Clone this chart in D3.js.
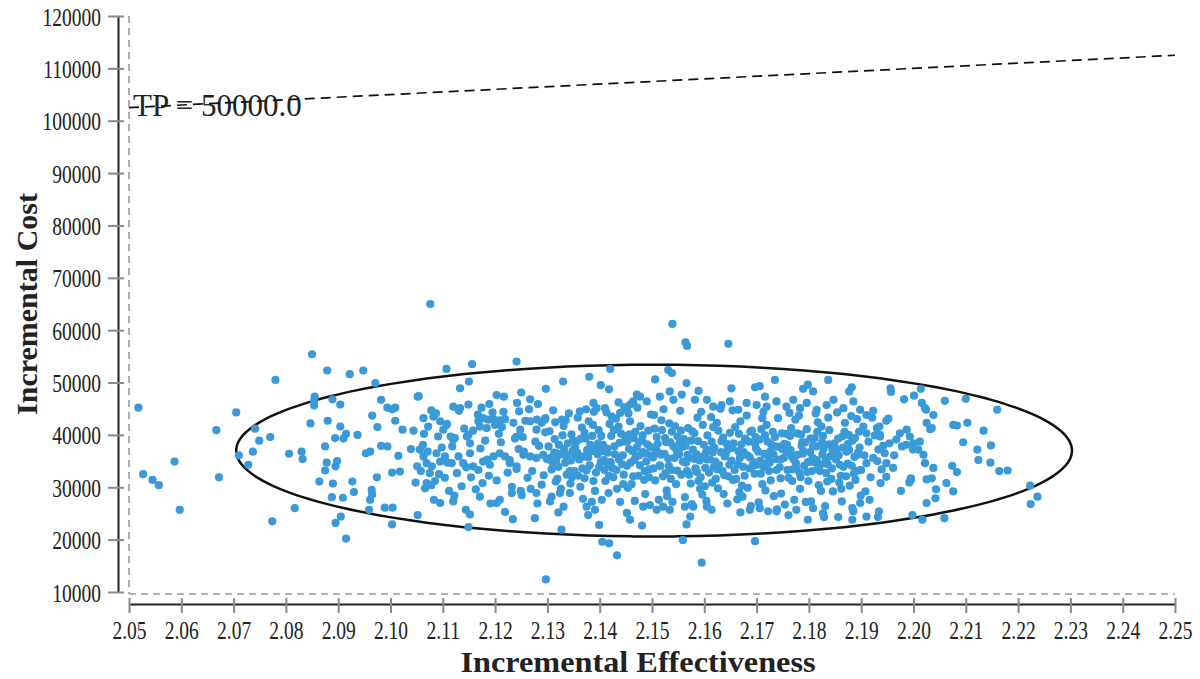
<!DOCTYPE html>
<html>
<head>
<meta charset="utf-8">
<script src="https://cdn.jsdelivr.net/npm/d3@7"></script>
<style>
  body { margin: 0; background: #fff; }
  svg { display: block; }
</style>
</head>
<body>
<svg id="chart" width="1200" height="679"></svg>
<script>
const xTicks = [2.05, 2.06, 2.07, 2.08, 2.09, 2.10, 2.11, 2.12, 2.13, 2.14, 2.15,
    2.16, 2.17, 2.18, 2.19, 2.20, 2.21, 2.22, 2.23, 2.24, 2.25];
const yTicks = [10000, 20000, 30000, 40000, 50000, 60000, 70000, 80000, 90000, 100000, 110000, 120000];

// willingness-to-pay threshold line and its label
const wtpLine = [[2.05, 102500], [2.25, 112500]];
const wtpLabel = 'TP = 50000.0';

// confidence ellipse: centre and semi-axes in data units
const ellipseCenter = [2.1504, 37000];
const ellipseRadii = [0.0799, 16400];

// simulated draws [incremental effectiveness, incremental cost]
const leftDraws = [
    [2.0518,45200],[2.0527,32500],[2.0545,31400],[2.0557,30400],[2.0587,34900],[2.0597,25700],[2.0667,40900],[2.0672,31900],
    [2.0705,44300],[2.0710,36100],[2.0728,34300],[2.0737,36800],[2.0741,41200],[2.0749,38900],[2.0770,39600],[2.0780,50500],
    [2.0774,23500],[2.0806,36400],[2.0817,26000],[2.0830,36800],[2.0832,35400],[2.0850,55400],[2.0855,47300],[2.0854,46500],
    [2.0854,45600],[2.0847,42200],[2.0864,31100],[2.0875,37800],[2.0878,34700],[2.0875,33200],[2.0895,34000],[2.0898,35000],
    [2.0879,52300],[2.0880,42700],[2.0889,46800],[2.0890,30700],[2.0888,28100],[2.0909,28000],[2.0894,39400],[2.0910,39300],
    [2.0915,40200],[2.0904,41600],[2.0904,45800],[2.0895,23200],[2.0905,24400],[2.0915,20200],[2.0922,51600],[2.0937,40000],
    [2.0927,31100],[2.0930,29100],[2.0948,52300],[2.0971,49900],[2.0965,43700],[2.0975,41500],[2.0982,46700],[2.0994,45200],
    [2.1003,44900],[2.1009,45200],[2.1009,42700],[2.1023,41000],[2.1044,40800],[2.1039,37300],[2.0982,37900],[2.0994,37800],
    [2.0953,36500],[2.0961,36800],[2.1015,36000],[2.1003,32800],[2.1018,33000],[2.0974,31900],[2.0964,29500],[2.0965,28600],
    [2.0961,27600],[2.0959,25700],[2.0989,26100],[2.1004,26100],[2.1003,22900],[2.1051,34000],[2.1048,30900],[2.1052,24700],
    [2.1052,47300],[2.1075,32700],[2.1069,30800]
];

const midDraws = [
    [2.1076,65000],[2.1107,52600],[2.1156,53500],[2.1241,54000],[2.1133,48900],[2.1150,50200],[2.1054,47400],[2.1078,44700],
    [2.1297,48800],[2.1330,50200],[2.1380,51100],[2.1420,52600],[2.1402,49500],[2.1418,48700],[2.1539,61200],[2.1564,57700],
    [2.1567,57000],[2.1531,52400],[2.1538,51800],[2.1506,50600],[2.1566,49900],[2.1203,47600],[2.1217,47300],[2.1250,48100],
    [2.1267,46800],[2.1282,45900],[2.1120,45400],[2.1133,45100],[2.1149,45800],[2.1174,45200],[2.1189,45900],[2.1242,46100],
    [2.1246,44500],[2.1388,46100],[2.1374,44900],[2.1394,45100],[2.1410,45100],[2.1423,43500],[2.1439,44200],[2.1452,44800],
    [2.1471,47700],[2.1464,46400],[2.1458,45800],[2.1335,42800],[2.1296,43200],[2.1289,42300],[2.1279,41000],
    [2.1063,43200],[2.1072,41600],[2.1082,43500],[2.1095,42600],[2.1107,41900],[2.1101,41000],[2.1115,39700],[2.1120,39100],
    [2.1091,39700],[2.1168,42600],[2.1177,43200],[2.1187,42900],[2.1197,43000],[2.1209,42800],[2.1219,43000],[2.1171,41600],
    [2.1184,41300],[2.1200,41900],[2.1213,41500],[2.1235,42300],[2.1241,39700],[2.1248,41000],[2.1267,42600],[2.1280,42900],
    [2.1295,42900],[2.1146,39700],[2.1149,40000],[2.1123,39400],[2.1152,38400],
    [2.1056,37200],[2.1063,35900],[2.1069,34600],[2.1079,34000],[2.1088,36500],[2.1095,34900],[2.1104,35900],[2.1117,34600],
    [2.1130,35900],[2.1139,34600],[2.1152,36500],[2.1158,34000],[2.1168,33300],[2.1177,34900],[2.1190,34300],[2.1197,35900],
    [2.1209,36500],[2.1219,35900],[2.1228,34600],[2.1241,34000],[2.1254,36200],[2.1267,35900],[2.1279,35600],[2.1292,36200],
    [2.1305,35200],[2.1318,36500],[2.1311,34600],
    [2.1062,38100],[2.1071,36800],[2.1085,31200],[2.1066,29800],[2.1093,32500],[2.1078,30400],[2.1058,33100],[2.1098,37600],
    [2.1087,44100],[2.1064,40200],[2.1104,31800],[2.1112,29300],[2.1127,32700],[2.1136,30200],[2.1108,42100],[2.1118,37800],
    [2.1141,41200],[2.1131,44600],[2.1122,28400],[2.1145,33800],[2.1109,34700],[2.1154,31900],[2.1163,29600],[2.1172,37400],
    [2.1181,38900],[2.1158,40800],[2.1176,30800],[2.1188,32200],[2.1195,44300],[2.1167,43900],[2.1185,35300],[2.1152,24800],
    [2.1191,26900],[2.1203,31300],[2.1211,38600],[2.1224,32800],[2.1232,30100],[2.1245,37300],[2.1216,44400],[2.1238,39300],
    [2.1207,40200],[2.1228,35200],[2.1249,29300],[2.1219,25300],[2.1241,33500],[2.1253,39600],[2.1262,31800],[2.1271,33100],
    [2.1284,37900],[2.1293,32300],[2.1258,42700],[2.1277,38700],[2.1268,29700],[2.1289,30500],[2.1296,40500],[2.1265,44900],
    [2.1281,26900],[2.1299,35400],[2.1255,36800]
];

const coreDraws = [
    [2.1302,37800],[2.1308,33400],[2.1314,39200],[2.1319,31600],[2.1323,36200],[2.1328,42900],[2.1334,34700],[2.1339,38400],
    [2.1344,30700],[2.1348,36900],[2.1311,44700],[2.1326,29700],[2.1337,32400],[2.1346,40100],[2.1305,27300],[2.1341,44100],
    [2.1317,35200],[2.1332,37300],[2.1304,40700],[2.1313,36600],[2.1321,33900],[2.1329,39900],[2.1336,35900],[2.1343,33100],
    [2.1349,38900],[2.1316,31100],[2.1331,41700],[2.1345,35100],
    [2.1352,33100],[2.1356,38800],[2.1361,35300],[2.1366,41400],[2.1371,31700],[2.1376,37100],[2.1381,34200],[2.1386,39800],
    [2.1391,29300],[2.1396,36300],[2.1358,43300],[2.1368,27800],[2.1379,42600],[2.1393,32800],[2.1363,30100],[2.1384,36900],
    [2.1398,40900],[2.1354,35900],[2.1373,39300],[2.1389,44400],[2.1353,37600],[2.1359,32200],[2.1364,39300],[2.1369,35900],
    [2.1375,33200],[2.1382,38100],[2.1388,31200],[2.1394,37500],[2.1399,33900],[2.1371,40400],
    [2.1402,34800],[2.1406,38100],[2.1411,31200],[2.1415,36600],[2.1419,42100],[2.1424,33700],[2.1428,37800],[2.1433,29700],
    [2.1437,35300],[2.1441,40200],[2.1446,32400],[2.1449,38700],[2.1404,27600],[2.1413,44300],[2.1422,39800],[2.1431,43100],
    [2.1439,27200],[2.1444,36100],[2.1408,35200],[2.1426,31900],[2.1417,28900],[2.1447,45300],[2.1403,39800],[2.1409,33300],
    [2.1414,37400],[2.1421,34800],[2.1427,40900],[2.1432,33300],[2.1438,38500],[2.1443,34400],[2.1448,39800],[2.1418,32200],
    [2.1452,34100],[2.1456,37300],[2.1461,30600],[2.1465,39400],[2.1469,35800],[2.1474,32200],[2.1478,41700],[2.1483,36700],
    [2.1487,28700],[2.1491,38200],[2.1495,33400],[2.1498,43900],[2.1458,42600],[2.1467,27400],[2.1476,36100],[2.1485,31400],
    [2.1493,40800],[2.1454,29900],[2.1472,45200],[2.1489,34900],[2.1463,36900],[2.1481,38900],[2.1453,38800],[2.1459,34700],
    [2.1464,32100],[2.1471,37600],[2.1477,34200],[2.1482,39900],[2.1488,36400],[2.1494,31900],[2.1499,36100],[2.1468,40600],
    [2.1502,35700],[2.1506,31300],[2.1511,38300],[2.1515,34200],[2.1519,40900],[2.1524,36400],[2.1528,29400],[2.1533,42200],
    [2.1537,33300],[2.1541,37800],[2.1546,30600],[2.1549,39700],[2.1504,43800],[2.1513,27600],[2.1522,44900],[2.1531,35500],
    [2.1539,27200],[2.1544,41700],[2.1508,37100],[2.1526,32700],[2.1517,36200],[2.1535,38600],[2.1503,33600],[2.1509,39600],
    [2.1514,36500],[2.1521,32100],[2.1527,38600],[2.1532,34100],[2.1538,40600],[2.1543,35600],[2.1548,33200],[2.1518,42800],
    [2.1552,36300],[2.1556,32400],[2.1561,39200],[2.1565,34700],[2.1569,41300],[2.1574,30700],[2.1578,37200],[2.1583,33600],
    [2.1587,43300],[2.1591,35100],[2.1596,28600],[2.1599,38100],[2.1554,44600],[2.1563,28100],[2.1572,35600],[2.1581,40300],
    [2.1589,31200],[2.1594,44400],[2.1558,37700],[2.1576,26800],[2.1567,33100],[2.1585,36300],[2.1553,38500],[2.1559,34900],
    [2.1564,37900],[2.1571,32400],[2.1577,40700],[2.1582,35400],[2.1588,38800],[2.1593,31900],[2.1598,35900],[2.1568,36200],
    [2.1602,33700],[2.1606,39900],[2.1611,35300],[2.1615,30900],[2.1619,37600],[2.1624,42300],[2.1628,34300],[2.1633,38800],
    [2.1637,28700],[2.1641,36400],[2.1646,32100],[2.1649,40400],[2.1604,27400],[2.1613,43400],[2.1622,31600],[2.1631,45000],
    [2.1639,35900],[2.1644,26900],[2.1608,37100],[2.1626,29800],[2.1617,41500],[2.1635,33100],[2.1603,36600],[2.1609,32800],
    [2.1614,38700],[2.1621,34900],[2.1627,40800],[2.1632,36700],[2.1638,32300],[2.1643,38300],[2.1648,34300],[2.1618,33800],
    [2.1652,35100],[2.1656,38400],[2.1661,31600],[2.1665,36900],[2.1669,42600],[2.1674,33900],[2.1678,39300],[2.1683,29900],
    [2.1687,35700],[2.1691,40800],[2.1696,32600],[2.1699,37400],[2.1654,44700],[2.1663,27700],[2.1672,30300],[2.1681,43700],
    [2.1689,26400],[2.1694,34800],[2.1658,33300],[2.1676,36300],[2.1667,29100],[2.1685,38700],[2.1653,37500],[2.1659,41500],
    [2.1664,34400],[2.1671,38200],[2.1677,32200],[2.1682,36100],[2.1688,40600],[2.1693,34100],[2.1698,39600],[2.1668,35600],
    [2.1702,34300],[2.1706,39100],[2.1711,30600],[2.1715,36400],[2.1719,41900],[2.1724,33100],[2.1728,38200],[2.1733,28300],
    [2.1737,35400],[2.1741,43200],[2.1746,31700],[2.1749,37300],[2.1704,27100],[2.1713,44400],[2.1722,35900],[2.1731,40600],
    [2.1739,25800],[2.1744,33800],[2.1708,32600],[2.1726,36800],[2.1717,29400],[2.1735,39600],[2.1703,36800],[2.1709,41100],
    [2.1714,33800],[2.1721,38700],[2.1727,31300],[2.1732,36300],[2.1738,33300],[2.1743,37700],[2.1748,40300],[2.1718,34500],
    [2.1752,35600],[2.1756,40200],[2.1761,31800],[2.1765,37100],[2.1769,33400],[2.1774,42900],[2.1778,36200],[2.1783,29700],
    [2.1787,38600],[2.1791,34100],[2.1796,41100],[2.1799,31200],[2.1754,26700],[2.1763,44200],[2.1772,27600],[2.1781,43700],
    [2.1789,36900],[2.1794,27200],[2.1758,38100],[2.1776,33700],[2.1767,35900],[2.1785,40100],[2.1753,38300],[2.1759,33300],
    [2.1764,39800],[2.1771,35300],[2.1777,40300],[2.1782,32800],[2.1788,36400],[2.1793,38600],[2.1798,34800],[2.1768,31200],
    [2.1802,36700],[2.1806,33100],[2.1811,39400],[2.1815,35200],[2.1819,30400],[2.1824,41600],[2.1828,37300],[2.1833,32700],
    [2.1837,43300],[2.1841,35900],[2.1846,29200],[2.1849,38400],[2.1804,27300],[2.1813,44100],[2.1822,34300],[2.1831,26400],
    [2.1839,40900],[2.1844,33600],[2.1808,37900],[2.1826,36300],[2.1817,42400],[2.1835,31100],[2.1803,39300],[2.1809,34800],
    [2.1814,37800],[2.1821,33100],[2.1827,39800],[2.1832,35200],[2.1838,38200],[2.1843,31600],[2.1848,36200],[2.1818,33700],
    [2.1852,35300],[2.1856,39300],[2.1861,32200],[2.1865,37600],[2.1869,42300],[2.1874,34500],[2.1878,30300],[2.1883,38900],
    [2.1887,35800],[2.1891,33100],[2.1896,40600],[2.1899,28400],[2.1854,44300],[2.1863,27300],[2.1872,36800],[2.1881,43600],
    [2.1889,31400],[2.1894,36600],[2.1858,30900],[2.1876,40000],[2.1853,37200],[2.1859,34300],[2.1864,39700],[2.1871,32100],
    [2.1877,37100],[2.1882,34100],[2.1888,39400],[2.1893,36200],[2.1898,33300],[2.1868,40600],
    [2.1906,36100],[2.1914,38700],[2.1918,31900],[2.1926,39900],[2.1931,35000],[2.1942,37900],[2.1908,29200],[2.1921,43300],
    [2.1939,33400],[2.1916,27600],[2.1963,36100],[2.1978,37800],[2.1952,43100],
    [2.1306,35600],[2.1322,38100],[2.1338,36100],[2.1347,31900],[2.1357,36600],[2.1367,33600],[2.1378,35700],[2.1387,41900],
    [2.1397,38400],[2.1407,36900],[2.1416,34300],[2.1429,36300],[2.1436,41600],[2.1445,30600],[2.1457,40100],[2.1466,35200],
    [2.1475,38600],[2.1486,33100],[2.1497,37700],[2.1505,41200],[2.1516,34000],[2.1525,39400],[2.1536,31600],[2.1547,37000],
    [2.1555,40800],[2.1566,35000],[2.1575,38900],[2.1586,32900],[2.1597,41900],[2.1605,35300],[2.1616,36700],[2.1625,33400],
    [2.1636,39500],[2.1645,37200],[2.1655,31400],[2.1666,40200],[2.1675,36700],[2.1686,33600],[2.1697,38300],[2.1707,35100],
    [2.1716,39900],[2.1725,34700],[2.1736,37800],[2.1745,35300],[2.1757,36800],[2.1766,41300],[2.1775,34600],[2.1786,37900],
    [2.1797,32900],[2.1807,35600],[2.1816,40600],[2.1825,38600],[2.1836,34400],[2.1845,37200],[2.1857,36100],[2.1866,33900],
    [2.1875,38300],[2.1886,32600],[2.1897,37600],[2.1315,42400],[2.1385,27200],[2.1455,44100],[2.1529,28300],[2.1601,30200],
    [2.1673,28200],[2.1747,28800],[2.1823,29300],[2.1892,43000],[2.1362,44500],[2.1436,46200],[2.1592,29700],[2.1711,43200],
    [2.1784,31900],[2.1862,29700]
];

const upperDraws = [
    [2.1646,57400],[2.1589,48400],[2.1652,48900],[2.1697,49100],[2.1706,49300],[2.1716,47300],[2.1735,50500],[2.1789,48800],
    [2.1798,49600],[2.1808,48300],[2.1837,50500],[2.1882,49100],[2.1877,48300],[2.1477,47300],[2.1490,46400],[2.1515,47300],
    [2.1534,48300],[2.1541,46700],[2.1557,47700],[2.1582,46700],[2.1605,46700],[2.1617,45400],[2.1633,45700],[2.1649,46400],
    [2.1665,44800],[2.1681,46100],[2.1700,45700],[2.1719,45400],[2.1738,46400],[2.1757,45400],[2.1770,46700],[2.1783,45100],
    [2.1796,46100],[2.1815,44800],[2.1834,45700],[2.1847,46700],[2.1866,45100],[2.1885,46400],[2.1898,44800],[2.1910,43800]
];

const rightDraws = [
    [2.1559,19900],[2.1595,15600],[2.1697,19700],[2.1566,22900],[2.1563,26300],[2.1956,48900],[2.1957,48200],[2.1982,46800],
    [2.2001,47500],[2.2014,48800],[2.2060,46500],[2.2100,46900],[2.2076,41900],[2.2083,41800],[2.2103,42300],[2.2095,38600],
    [2.2122,37200],[2.2124,35200],[2.1923,44600],[2.1948,42700],[2.1935,41600],[2.1936,40000],[2.1974,40300],[2.1987,41000],
    [2.1993,39700],[2.2000,38400],[2.2012,38700],[2.2009,37200],[2.2019,36200],[2.2016,46100],[2.2022,45100],[2.2038,43800],
    [2.2025,42300],[2.2035,41300],[2.2022,34600],[2.2038,33700],[2.2025,31500],[2.2035,31700],[2.2074,34100],[2.2083,32900],
    [2.2063,30800],[2.2076,29200],[2.2043,29600],[2.2042,27900],[2.2025,27000],[2.1976,29300],[2.1995,31400],[2.1998,24700],
    [2.2017,23800],[2.2059,24100],[2.1934,25400],[2.1932,24300],[2.1883,26000],[2.1883,23800],[2.1856,24300],[2.1829,24300],
    [2.1798,23800],[2.2160,44800],[2.2134,40800],[2.2148,38000],[2.2147,34700],[2.2164,33100],[2.2180,33200],[2.2223,30300],
    [2.2237,28200],[2.2224,26800],[2.2024,44800],[2.2032,41100],[2.1995,31700],[2.1992,30900],[2.1937,30800],[2.1948,32000],
    [2.1961,33700],[2.1904,41600],[2.1910,40300],[2.1930,41300],[2.1936,39700],[2.1933,37200],[2.1945,36500],[2.1923,35600],
    [2.1910,34600],[2.1900,33300],[2.1948,34600],[2.1954,38400],[2.1967,39100],[2.1986,38100],[2.1999,37200]
];

const lowerDraws = [
    [2.1297,12400],[2.1433,17000],[2.1405,19600],[2.1418,19300],[2.1399,22800],[2.1327,21900],[2.1276,24100],[2.1234,23900],
    [2.1149,22400],[2.1144,25700],[2.1481,22700],[2.1458,23800],[2.1452,25100],[2.1378,24700],[2.1391,25700],[2.1375,26300],
    [2.1321,25200],[2.1331,26300],[2.1308,28200],[2.1324,28900],[2.1343,28900],[2.1279,28900],[2.1251,28500],[2.1232,28900],
    [2.1209,27600],[2.1203,27000],[2.1171,28200],[2.1120,27300],[2.1095,27000],[2.1083,27600],[2.1483,26300],[2.1496,26600],
    [2.1509,25700],[2.1521,26300],[2.1534,25700],[2.1573,24400],[2.1579,26300],[2.1605,26300],[2.1614,25700],[2.1669,25200],
    [2.1687,25700],[2.1706,26000],[2.1722,25400],[2.1738,25400],[2.1761,24700],[2.1776,25700],[2.1808,26000],[2.1827,25000],
    [2.1885,25400],[2.1898,27000],[2.1910,24400]
];

const draws = [].concat(leftDraws, midDraws, coreDraws, upperDraws, rightDraws, lowerDraws);

const margins = { top: 16, right: 25, bottom: 87, left: 129 };
const WIDTH = 1200 - margins.left - margins.right;
const HEIGHT = 679 - margins.top - margins.bottom;
const SERIF = '"Liberation Serif", "Times New Roman", serif';

const x = d3.scaleLinear().domain([2.05, 2.25]).range([0, WIDTH]);
const y = d3.scaleLinear().domain([10000, 120000]).range([HEIGHT, 0]);

const svg = d3.select('#chart');
const g = svg.append('g')
    .attr('transform', 'translate(' + margins.left + ',' + margins.top + ')');

// dashed frame at the lower / left data bounds
g.append('line')
    .attr('x1', x(2.05)).attr('x2', x(2.05))
    .attr('y1', y(120000)).attr('y2', y(10000) + 2)
    .attr('stroke', '#9a9a9a').attr('stroke-width', 1.6).attr('stroke-dasharray', '7,5');
g.append('line')
    .attr('x1', x(2.05)).attr('x2', x(2.25))
    .attr('y1', y(10000) + 2).attr('y2', y(10000) + 2)
    .attr('stroke', '#9a9a9a').attr('stroke-width', 1.6).attr('stroke-dasharray', '7,5');

// x axis, offset below the plot
const xAxis = g.append('g')
    .attr('transform', 'translate(0,' + (HEIGHT + 12) + ')')
    .call(d3.axisBottom(x).tickValues(xTicks).tickFormat(d3.format('.2f')).tickSizeOuter(0));
xAxis.attr('font-family', SERIF).attr('font-size', 19.5);
xAxis.select('.domain').attr('stroke', '#222').attr('stroke-width', 2);
xAxis.selectAll('.tick line').attr('y1', -6).attr('y2', 9).attr('stroke', '#8a8a8a').attr('stroke-width', 2);
xAxis.selectAll('.tick text')
    .attr('y', null).attr('dy', null).attr('fill', '#222')
    .attr('transform', 'translate(0,34.5) scale(1,1.3)');

// y axis, offset left of the plot
const yAxis = g.append('g')
    .attr('transform', 'translate(-11,0)')
    .call(d3.axisLeft(y).tickValues(yTicks).tickFormat(d3.format('d')).tickSizeOuter(0));
yAxis.attr('font-family', SERIF).attr('font-size', 19.5);
yAxis.select('.domain').attr('stroke', '#222').attr('stroke-width', 2);
yAxis.selectAll('.tick line').attr('x1', -10).attr('x2', 6).attr('stroke', '#8a8a8a').attr('stroke-width', 2);
yAxis.selectAll('.tick text')
    .attr('x', null).attr('dy', null).attr('fill', '#222')
    .attr('transform', 'translate(-17,9) scale(1,1.3)');

// threshold label + dashed line
g.append('text')
    .attr('x', x(wtpLine[0][0]) + 4)
    .attr('y', y(wtpLine[0][1]) + 8)
    .attr('font-family', SERIF).attr('font-size', 31).attr('fill', '#222')
    .text(wtpLabel);

g.append('path')
    .datum(wtpLine)
    .attr('d', d3.line().x(d => x(d[0])).y(d => y(d[1])))
    .attr('fill', 'none').attr('stroke', '#111').attr('stroke-width', 1.7)
    .attr('stroke-dasharray', '10,6');

// ellipse
const angles = d3.range(0, 360, 3).map(a => a * Math.PI / 180);
g.append('path')
    .datum(angles)
    .attr('d', d3.line()
        .x(a => x(ellipseCenter[0] + ellipseRadii[0] * Math.cos(a)))
        .y(a => y(ellipseCenter[1] + ellipseRadii[1] * Math.sin(a)))
        .curve(d3.curveCardinalClosed))
    .attr('fill', 'none').attr('stroke', '#111').attr('stroke-width', 2.5);

// points
g.selectAll('.draw')
    .data(draws)
    .enter()
    .append('circle')
    .attr('class', 'draw')
    .attr('cx', d => x(d[0]))
    .attr('cy', d => y(d[1]))
    .attr('r', 4.1)
    .attr('fill', '#3a9ad8');

// axis titles
g.append('text')
    .attr('x', WIDTH / 2 - 14)
    .attr('y', HEIGHT + 80)
    .attr('text-anchor', 'middle')
    .attr('textLength', 355)
    .attr('lengthAdjust', 'spacingAndGlyphs')
    .attr('font-family', SERIF).attr('font-weight', 'bold').attr('font-size', 30).attr('fill', '#222')
    .text('Incremental Effectiveness');

g.append('text')
    .attr('transform', 'translate(' + (37 - margins.left) + ',' + (304 - margins.top) + ') rotate(-90)')
    .attr('text-anchor', 'middle')
    .attr('font-family', SERIF).attr('font-weight', 'bold').attr('font-size', 30).attr('fill', '#222')
    .text('Incremental Cost');
</script>
</body>
</html>
